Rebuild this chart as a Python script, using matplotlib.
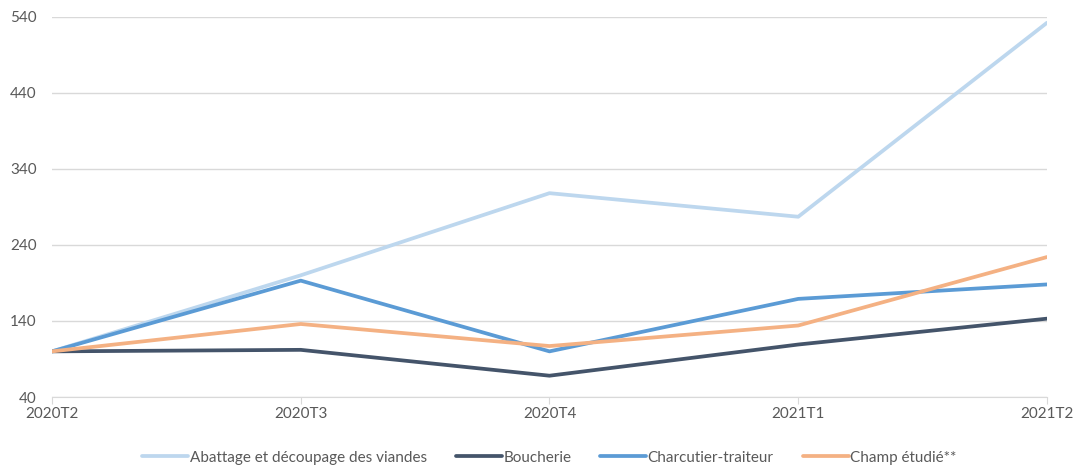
import matplotlib.pyplot as plt

plt.rcParams['font.family'] = ['Lato', 'DejaVu Sans']

# trimestres
trimestres = ["2020T2", "2020T3", "2020T4", "2021T1", "2021T2"]

# indices (base 100 en 2020T2)
abattage = [100, 200, 308, 277, 532]
boucherie = [100, 102, 68, 109, 143]
charcutier = [100, 193, 100, 169, 188]
champ = [100, 136, 107, 134, 224]

series = [
    ("Abattage et découpage des viandes", abattage, "#BDD7EE"),
    ("Boucherie", boucherie, "#44546A"),
    ("Charcutier-traiteur", charcutier, "#5B9BD5"),
    ("Champ étudié**", champ, "#F4B183"),
]

fig = plt.figure(figsize=(10.77, 4.68), dpi=100)
ax = fig.add_axes([0.0483, 0.1517, 0.9238, 0.8126])

x = range(len(trimestres))
for nom, vals, couleur in series:
    ax.plot(x, vals, color=couleur, lw=2.7, label=nom, solid_joinstyle="round",
            solid_capstyle="round")

grille = "#D9D9D9"
ax.set_ylim(40, 540)
ax.set_yticks(range(40, 541, 100))
ax.set_xlim(0, len(trimestres) - 1)
ax.set_xticks(list(x))
ax.set_xticklabels(trimestres)
ax.grid(axis="y", color=grille, lw=1)
ax.set_axisbelow(True)
for s in ["top", "right", "left"]:
    ax.spines[s].set_visible(False)
ax.spines["bottom"].set_color(grille)
ax.tick_params(axis="y", length=0, labelsize=11, labelcolor="#595959", pad=11)
ax.tick_params(axis="x", length=5, color=grille, labelsize=11,
               labelcolor="#595959", pad=2)

ax.legend(loc="upper center", bbox_to_anchor=(0.5, -0.105), ncol=4, frameon=False,
          fontsize=11, labelcolor="#595959", handlelength=3.0, handletextpad=0.1,
          columnspacing=1.9)

fig.savefig("out.png", dpi=100)
